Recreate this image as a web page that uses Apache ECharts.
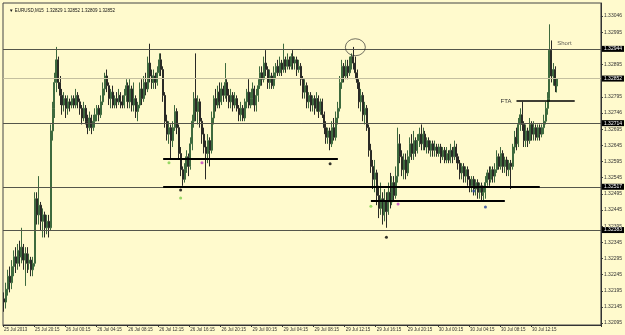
<!DOCTYPE html>
<html>
<head>
<meta charset="utf-8">
<script src="https://cdn.jsdelivr.net/npm/echarts@6/dist/echarts.min.js"></script>
<style>
html,body{margin:0;padding:0;background:#FFFACD;}
#chart{width:625px;height:335px;}
</style>
</head>
<body>
<div id="chart"></div>
<script>
// ---- data ----
const titleText = '\u25BC EURUSD,M15  1.32829 1.32852 1.32809 1.32852';
const xTickLabels = ['25 Jul 2013','25 Jul 20:15','26 Jul 00:15','26 Jul 04:15','26 Jul 08:15','26 Jul 12:15','26 Jul 16:15','26 Jul 20:15','29 Jul 00:15','29 Jul 04:15','29 Jul 08:15','29 Jul 12:15','29 Jul 16:15','29 Jul 20:15','30 Jul 00:15','30 Jul 04:15','30 Jul 08:15','30 Jul 12:15'];
const yTickValues = [1.33046,1.32995,1.32895,1.32795,1.32746,1.32695,1.32645,1.32595,1.32545,1.32495,1.32445,1.32395,1.32345,1.32295,1.32245,1.32195,1.32145,1.32095];
const levelLines = [1.32944,1.32714,1.32517,1.32383];
const bidLine = 1.32852;
// [open, close, low, high]
const ohlc = [
[1.3217,1.3216,1.3213,1.3219],[1.3216,1.3220,1.3214,1.3222],[1.3220,1.3224,1.3218,1.3226],[1.3224,1.3222,1.3219,1.3227],
[1.3222,1.3227,1.3220,1.3229],[1.3227,1.3230,1.3224,1.3232],[1.3230,1.3228,1.3225,1.3233],[1.3228,1.3232,1.3226,1.3234],
[1.3232,1.3230,1.3227,1.3235],[1.3230,1.3233,1.3228,1.3239],[1.3233,1.3229,1.3226,1.3234],[1.3229,1.3231,1.3221,1.3233],
[1.3231,1.3228,1.3225,1.3233],[1.3228,1.3229,1.3226,1.3231],[1.3229,1.3226,1.3224,1.3230],[1.3226,1.3228,1.3224,1.3230],
[1.3228,1.3248,1.3227,1.3250],[1.3248,1.3243,1.3240,1.3250],[1.3243,1.3246,1.3240,1.3255],[1.3246,1.3241,1.3238,1.3247],
[1.3241,1.3243,1.3236,1.3245],[1.3243,1.3239,1.3236,1.3244],[1.3239,1.3241,1.3237,1.3243],[1.3241,1.3239,1.3236,1.3243],
[1.3239,1.3269,1.3238,1.3271],[1.3269,1.3276,1.3266,1.3278],[1.3276,1.3284,1.3273,1.3287],[1.3284,1.3291,1.3281,1.3295],
[1.3291,1.3284,1.3282,1.3292],[1.3284,1.3280,1.3277,1.3286],[1.3280,1.3277,1.3274,1.3282],[1.3277,1.3279,1.3275,1.3281],
[1.3279,1.3276,1.3273,1.3280],[1.3276,1.3278,1.3274,1.3280],[1.3278,1.3277,1.3275,1.3279],[1.3277,1.3279,1.3276,1.3280],
[1.3279,1.3277,1.3276,1.3280],[1.3277,1.3280,1.3276,1.3282],[1.3280,1.3278,1.3276,1.3281],[1.3278,1.3276,1.3274,1.3279],
[1.3276,1.3273,1.3271,1.3277],[1.3273,1.3276,1.3272,1.3278],[1.3276,1.3272,1.3271,1.3277],[1.3272,1.3270,1.3268,1.3274],
[1.3270,1.3273,1.3269,1.3275],[1.3273,1.3270,1.3268,1.3274],[1.3270,1.3272,1.3269,1.3274],[1.3272,1.3274,1.3270,1.3276],
[1.3274,1.3276,1.3272,1.3277],[1.3276,1.3274,1.3272,1.3277],[1.3274,1.3278,1.3273,1.3280],[1.3278,1.3282,1.3277,1.3284],
[1.3282,1.3286,1.3280,1.3287],[1.3286,1.3283,1.3281,1.3288],[1.3283,1.3279,1.3277,1.3284],[1.3279,1.3281,1.3276,1.3282],
[1.3281,1.3277,1.3276,1.3283],[1.3277,1.3279,1.3276,1.3280],[1.3279,1.3278,1.3276,1.3281],[1.3278,1.3280,1.3277,1.3282],
[1.3280,1.3278,1.3276,1.3281],[1.3278,1.3277,1.3276,1.3280],[1.3277,1.3280,1.3276,1.3282],[1.3280,1.3283,1.3278,1.3285],
[1.3283,1.3278,1.3276,1.3284],[1.3278,1.3282,1.3276,1.3285],[1.3282,1.3277,1.3275,1.3283],[1.3277,1.3279,1.3275,1.3284],
[1.3279,1.3275,1.3273,1.3280],[1.3275,1.3277,1.3272,1.3278],[1.3277,1.3282,1.3276,1.3284],[1.3282,1.3279,1.3277,1.3285],
[1.3279,1.3284,1.3278,1.3286],[1.3284,1.3282,1.3280,1.3287],[1.3282,1.3290,1.3281,1.3292],[1.3290,1.3286,1.3284,1.3296],
[1.3286,1.3284,1.3282,1.3288],[1.3284,1.3286,1.3282,1.3288],[1.3286,1.3284,1.3282,1.3287],[1.3284,1.3287,1.3283,1.3289],
[1.3287,1.3291,1.3286,1.3293],[1.3291,1.3288,1.3286,1.3293],[1.3288,1.3280,1.3278,1.3289],[1.3280,1.3272,1.3270,1.3281],
[1.3272,1.3268,1.3266,1.3274],[1.3268,1.3270,1.3265,1.3272],[1.3270,1.3266,1.3260,1.3271],[1.3266,1.3270,1.3264,1.3272],
[1.3270,1.3275,1.3269,1.3277],[1.3275,1.3270,1.3268,1.3276],[1.3270,1.3262,1.3260,1.3271],[1.3262,1.3257,1.3255,1.3264],
[1.3257,1.3254,1.3252,1.3258],[1.3254,1.3257,1.3253,1.3259],[1.3257,1.3261,1.3256,1.3263],[1.3261,1.3258,1.3255,1.3262],
[1.3258,1.3265,1.3257,1.3267],[1.3265,1.3272,1.3263,1.3274],[1.3272,1.3279,1.3270,1.3281],[1.3279,1.3275,1.3272,1.3293],
[1.3275,1.3278,1.3271,1.3280],[1.3278,1.3272,1.3270,1.3279],[1.3272,1.3268,1.3265,1.3273],[1.3268,1.3264,1.3262,1.3270],
[1.3264,1.3262,1.3254,1.3266],[1.3262,1.3266,1.3259,1.3268],[1.3266,1.3263,1.3258,1.3267],[1.3263,1.3273,1.3262,1.3275],
[1.3273,1.3279,1.3271,1.3280],[1.3279,1.3277,1.3275,1.3282],[1.3277,1.3281,1.3276,1.3283],[1.3281,1.3278,1.3276,1.3284],
[1.3278,1.3282,1.3277,1.3284],[1.3282,1.3280,1.3278,1.3283],[1.3280,1.3284,1.3279,1.3290],[1.3284,1.3280,1.3278,1.3285],
[1.3280,1.3278,1.3276,1.3282],[1.3278,1.3280,1.3276,1.3282],[1.3280,1.3277,1.3275,1.3281],[1.3277,1.3279,1.3276,1.3281],
[1.3279,1.3276,1.3275,1.3280],[1.3276,1.3274,1.3272,1.3277],[1.3274,1.3276,1.3272,1.3278],[1.3276,1.3273,1.3272,1.3277],
[1.3273,1.3278,1.3272,1.3279],[1.3278,1.3281,1.3276,1.3282],[1.3281,1.3277,1.3276,1.3285],[1.3277,1.3279,1.3276,1.3281],
[1.3279,1.3282,1.3277,1.3284],[1.3282,1.3277,1.3275,1.3283],[1.3277,1.3280,1.3275,1.3282],[1.3280,1.3283,1.3278,1.3285],
[1.3283,1.3287,1.3282,1.3289],[1.3287,1.3285,1.3283,1.3289],[1.3285,1.3290,1.3284,1.3292],[1.3290,1.3288,1.3286,1.3294],
[1.3288,1.3284,1.3282,1.3289],[1.3284,1.3286,1.3282,1.3288],[1.3286,1.3283,1.3282,1.3287],[1.3283,1.3287,1.3282,1.3289],
[1.3287,1.3289,1.3285,1.3290],[1.3289,1.3287,1.3286,1.3291],[1.3287,1.3290,1.3286,1.3292],[1.3290,1.3288,1.3286,1.3291],
[1.3288,1.3291,1.3287,1.3296],[1.3291,1.3289,1.3287,1.3292],[1.3289,1.3291,1.3288,1.3293],[1.3291,1.3289,1.3288,1.3292],
[1.3289,1.3292,1.3288,1.3293],[1.3292,1.3290,1.3288,1.3294],[1.3290,1.3291,1.3288,1.3292],[1.3291,1.3288,1.3286,1.3292],
[1.3288,1.3289,1.3287,1.3291],[1.3289,1.3285,1.3283,1.3290],[1.3285,1.3281,1.3279,1.3286],[1.3281,1.3283,1.3279,1.3285],
[1.3283,1.3278,1.3276,1.3284],[1.3278,1.3280,1.3276,1.3281],[1.3280,1.3277,1.3275,1.3281],[1.3277,1.3279,1.3275,1.3280],
[1.3279,1.3276,1.3274,1.3280],[1.3276,1.3279,1.3275,1.3281],[1.3279,1.3275,1.3273,1.3280],[1.3275,1.3278,1.3274,1.3279],
[1.3278,1.3274,1.3273,1.3279],[1.3274,1.3270,1.3268,1.3275],[1.3270,1.3267,1.3265,1.3272],[1.3267,1.3269,1.3265,1.3270],
[1.3269,1.3265,1.3263,1.3270],[1.3265,1.3270,1.3264,1.3272],[1.3270,1.3267,1.3266,1.3273],[1.3267,1.3273,1.3266,1.3275],
[1.3273,1.3276,1.3271,1.3278],[1.3276,1.3284,1.3275,1.3286],[1.3284,1.3289,1.3282,1.3291],[1.3289,1.3286,1.3284,1.3290],
[1.3286,1.3289,1.3285,1.3291],[1.3289,1.3287,1.3285,1.3291],[1.3287,1.3290,1.3286,1.3292],[1.3290,1.3292,1.3288,1.3293],
[1.3292,1.3290,1.3288,1.3295],[1.3290,1.3287,1.3285,1.3292],[1.3287,1.3284,1.3282,1.3288],[1.3284,1.3278,1.3276,1.3285],
[1.3278,1.3280,1.3275,1.3282],[1.3280,1.3274,1.3272,1.3281],[1.3274,1.3276,1.3271,1.3278],[1.3276,1.3270,1.3269,1.3277],
[1.3270,1.3263,1.3261,1.3271],[1.3263,1.3258,1.3256,1.3265],[1.3258,1.3254,1.3251,1.3260],[1.3254,1.3256,1.3250,1.3260],
[1.3256,1.3249,1.3246,1.3257],[1.3249,1.3245,1.3242,1.3252],[1.3245,1.3248,1.3243,1.3253],[1.3248,1.3243,1.3240,1.3250],
[1.3243,1.3247,1.3241,1.3251],[1.3247,1.3244,1.3239,1.3250],[1.3244,1.3250,1.3243,1.3253],[1.3250,1.3247,1.3245,1.3256],
[1.3247,1.3253,1.3246,1.3255],[1.3253,1.3249,1.3247,1.3255],[1.3249,1.3255,1.3248,1.3258],[1.3255,1.3265,1.3253,1.3270],
[1.3265,1.3261,1.3259,1.3268],[1.3261,1.3257,1.3255,1.3263],[1.3257,1.3260,1.3254,1.3262],[1.3260,1.3256,1.3254,1.3262],
[1.3256,1.3261,1.3255,1.3263],[1.3261,1.3265,1.3259,1.3267],[1.3265,1.3262,1.3260,1.3268],[1.3262,1.3266,1.3260,1.3269],
[1.3266,1.3263,1.3261,1.3267],[1.3263,1.3266,1.3262,1.3268],[1.3266,1.3268,1.3264,1.3270],[1.3268,1.3265,1.3263,1.3271],
[1.3265,1.3268,1.3263,1.3270],[1.3268,1.3264,1.3263,1.3269],[1.3264,1.3266,1.3262,1.3267],[1.3266,1.3263,1.3262,1.3267],
[1.3263,1.3265,1.3261,1.3266],[1.3265,1.3263,1.3261,1.3266],[1.3263,1.3264,1.3261,1.3266],[1.3264,1.3262,1.3261,1.3265],
[1.3262,1.3264,1.3261,1.3265],[1.3264,1.3261,1.3259,1.3265],[1.3261,1.3263,1.3260,1.3264],[1.3263,1.3260,1.3259,1.3264],
[1.3260,1.3262,1.3259,1.3264],[1.3262,1.3260,1.3259,1.3263],[1.3260,1.3263,1.3259,1.3265],[1.3263,1.3261,1.3259,1.3264],
[1.3261,1.3264,1.3260,1.3266],[1.3264,1.3261,1.3259,1.3265],[1.3261,1.3259,1.3257,1.3262],[1.3259,1.3256,1.3254,1.3260],
[1.3256,1.3258,1.3254,1.3259],[1.3258,1.3255,1.3253,1.3259],[1.3255,1.3257,1.3253,1.3258],[1.3257,1.3254,1.3252,1.3258],
[1.3254,1.3252,1.3250,1.3255],[1.3252,1.3254,1.3250,1.3255],[1.3254,1.3251,1.3249,1.3255],[1.3251,1.3253,1.3249,1.3254],
[1.3253,1.3250,1.3248,1.3254],[1.3250,1.3252,1.3248,1.3253],[1.3252,1.3249,1.3247,1.3253],[1.3249,1.3250,1.3247,1.3252],
[1.3250,1.3253,1.3248,1.3255],[1.3253,1.3256,1.3252,1.3257],[1.3256,1.3254,1.3252,1.3258],[1.3254,1.3257,1.3253,1.3258],
[1.3257,1.3255,1.3253,1.3258],[1.3255,1.3257,1.3253,1.3259],[1.3257,1.3261,1.3256,1.3263],[1.3261,1.3258,1.3257,1.3262],
[1.3258,1.3262,1.3257,1.3264],[1.3262,1.3258,1.3256,1.3263],[1.3258,1.3260,1.3256,1.3261],[1.3260,1.3257,1.3255,1.3261],
[1.3257,1.3259,1.3255,1.3260],[1.3259,1.3258,1.3251,1.3260],[1.3258,1.3264,1.3257,1.3265],[1.3264,1.3267,1.3262,1.3269],
[1.3267,1.3265,1.3263,1.3270],[1.3265,1.3271,1.3264,1.3273],[1.3271,1.3274,1.3269,1.3276],[1.3274,1.3271,1.3269,1.3278],
[1.3271,1.3266,1.3264,1.3272],[1.3266,1.3269,1.3264,1.3271],[1.3269,1.3266,1.3264,1.3270],[1.3266,1.3271,1.3265,1.3273],
[1.3271,1.3268,1.3266,1.3272],[1.3268,1.3270,1.3266,1.3272],[1.3270,1.3267,1.3266,1.3271],[1.3267,1.3270,1.3266,1.3271],
[1.3270,1.3268,1.3266,1.3271],[1.3268,1.3270,1.3267,1.3271],[1.3270,1.3272,1.3268,1.3274],[1.3272,1.3276,1.3271,1.3278],
[1.3276,1.3279,1.3274,1.3281],[1.3279,1.3294,1.3278,1.3302],[1.3294,1.3286,1.3284,1.3297],[1.3286,1.3288,1.3283,1.3290],
[1.3288,1.3283,1.3281,1.3289],[1.32829,1.32852,1.32809,1.32852]
];
const emptyFutureBars = 22;
// annotations: [startIndex, endIndex, price]
const supportSegments = [[82,172,1.32603],[82,276,1.32517],[189,258,1.32473]];
const ftaSegment = [264,294,1.32783];
const shortLabel = [285,1.32960];
const circledPeak = [181,1.32949];
const greenDots = [[85,1.32591],[91,1.32482],[189,1.32457]];
const magentaDots = [[102,1.32591],[203,1.32464]];
const blackDots = [[91,1.32507],[168,1.32588],[197,1.32361]];
const blueDots = [[242,1.32504],[248,1.32454]];

// ---- chart ----
const totalBars = ohlc.length + emptyFutureBars;
const categories = Array.from({length: totalBars}, (_, i) => String(i));
const tickStep = 16;
const FONT = 'Liberation Sans';

const chart = echarts.init(document.getElementById('chart'), null, {renderer: 'canvas'});

function dotSeries(data, color) {
  return {
    type: 'scatter', data: data, symbol: 'circle', symbolSize: 3,
    itemStyle: {color: color}, silent: true, z: 5
  };
}

function levelLabel(v) {
  return {show: true, position: 'end', distance: 1, formatter: v.toFixed(5),
    color: '#ffffff', backgroundColor: '#000000', padding: [1, 2, 0, 2],
    fontSize: 5, fontFamily: FONT};
}
const levelMarks = levelLines.map(v => ({
  yAxis: v,
  lineStyle: {color: '#55554a', width: 1, type: 'solid'},
  label: levelLabel(v)
}));
levelMarks.push({
  yAxis: bidLine,
  lineStyle: {color: '#c4bf9f', width: 1, type: 'solid'},
  label: levelLabel(bidLine)
});
const segmentMarks = supportSegments.map(s => [
  {coord: [s[0], s[2]], lineStyle: {color: '#000', width: 2, type: 'solid'}, label: {show: false}},
  {coord: [s[1], s[2]]}
]);
segmentMarks.push([
  {coord: [ftaSegment[0], ftaSegment[2]], lineStyle: {color: '#000', width: 1.5, type: 'solid'},
   label: {show: true, position: 'start', formatter: 'FTA', color: '#333', fontSize: 6, fontFamily: FONT, distance: 5}},
  {coord: [ftaSegment[1], ftaSegment[2]]}
]);

const option = {
  backgroundColor: '#FFFACD',
  animation: false,
  title: {
    text: titleText, left: 4, top: 3,
    textStyle: {fontSize: 4.5, fontWeight: 'normal', color: '#111', fontFamily: FONT}
  },
  grid: {left: 3, right: 22, top: 3, bottom: 10, show: true, borderColor: '#444', borderWidth: 1, backgroundColor: 'transparent'},
  xAxis: {
    type: 'category', data: categories, boundaryGap: true,
    axisLine: {show: true, lineStyle: {color: '#333', width: 1}},
    axisTick: {show: true, length: 2, lineStyle: {color: '#333'},
      interval: (i) => i % tickStep === 0 && i / tickStep < xTickLabels.length},
    axisLabel: {
      show: true, fontSize: 4.5, color: '#333', fontFamily: FONT, margin: 2, align: 'left',
      interval: (i) => i % tickStep === 0 && i / tickStep < xTickLabels.length,
      formatter: (v, i) => xTickLabels[i / tickStep] || ''
    },
    splitLine: {show: false}
  },
  yAxis: {
    type: 'value', position: 'right', scale: true,
    min: 1.32089, max: 1.33086,
    axisLine: {show: true, lineStyle: {color: '#333', width: 1}},
    axisTick: {show: true, length: 2, customValues: yTickValues, lineStyle: {color: '#333'}},
    axisLabel: {show: true, customValues: yTickValues, fontSize: 5, color: '#333', fontFamily: FONT, margin: 3,
      formatter: (v) => v.toFixed(5)},
    splitLine: {show: false}
  },
  series: [
    {
      type: 'line', data: [], silent: true, symbol: 'none',
      markLine: {silent: true, symbol: 'none', animation: false, precision: 5, data: levelMarks},
      z: 2
    },
    {
      type: 'candlestick', data: ohlc, barWidth: 1.5,
      itemStyle: {color: '#8f9680', color0: '#44443c', borderColor: '#3e6a3e', borderColor0: '#2a2a26', borderWidth: 1},
      z: 3
    },
    {
      type: 'line', data: [], silent: true, symbol: 'none',
      markLine: {silent: true, symbol: 'none', animation: false, precision: 5, data: segmentMarks},
      z: 4
    },
    dotSeries(greenDots, '#7ccf4a'),
    dotSeries(magentaDots, '#c03cc0'),
    dotSeries(blackDots, '#000000'),
    dotSeries(blueDots, '#20409a'),
    {
      type: 'scatter', data: [circledPeak], symbol: 'circle', symbolSize: [20, 17], silent: true,
      itemStyle: {color: 'rgba(0,0,0,0)', borderColor: '#222', borderWidth: 0.8}, z: 6
    },
    {
      type: 'scatter', data: [shortLabel], symbolSize: 0, silent: true,
      label: {show: true, position: 'right', distance: 0, formatter: 'Short', color: '#333', fontSize: 6, fontFamily: FONT}
    }
  ]
};
chart.setOption(option);
</script>
</body>
</html>
